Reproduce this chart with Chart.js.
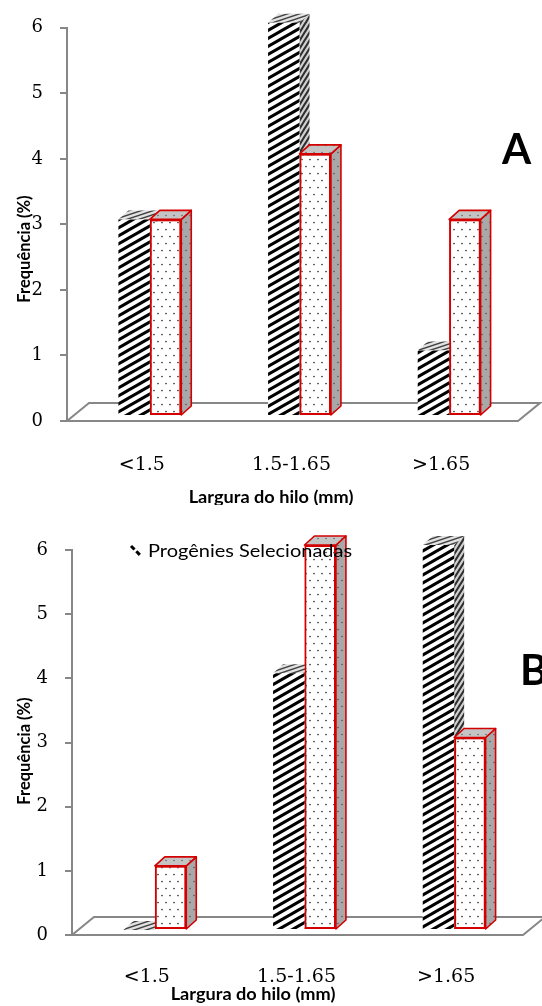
<!DOCTYPE html>
<html>
<head>
<meta charset="utf-8">
<script src="https://cdn.jsdelivr.net/npm/chart.js@4.4.0/dist/chart.umd.min.js"></script>
<style>
  html, body { margin: 0; padding: 0; background: #ffffff; }
  #wrap { position: relative; width: 542px; height: 1006px; overflow: hidden; }
  .panel { position: absolute; left: 0; width: 542px; }
  #pa { top: 0; height: 505px; }
  #pb { top: 505px; height: 501px; }
  canvas { display: block; }
</style>
</head>
<body>
<div id="wrap">
  <div class="panel" id="pa"><canvas id="chartA" width="542" height="505"></canvas></div>
  <div class="panel" id="pb"><canvas id="chartB" width="542" height="501"></canvas></div>
</div>
<script>
// Hilum width classes and frequency (%) per group
const categories = ['<1.5', '1.5-1.65', '>1.65'];
const selecionadasA = [3, 6, 1];
const outrasA = [3, 4, 3];
const selecionadasB = [0, 4, 6];
const outrasB = [1, 6, 3];
const yTicks = [0, 1, 2, 3, 4, 5, 6];
const seriesNames = ['Progênies Selecionadas', 'Outras progênies'];
const yTitle = 'Frequência (%)';
const xTitle = 'Largura do hilo (mm)';

const RED = '#d40000';
const AXIS_GREY = '#878787';

// ---------- fill patterns ----------
function tile(w, h) {
  const c = document.createElement('canvas');
  c.width = w; c.height = h;
  return c;
}
function hatchPattern(bg, fg, w, h, lw) {
  const c = tile(w, h), g = c.getContext('2d');
  g.fillStyle = bg; g.fillRect(0, 0, w, h);
  g.strokeStyle = fg; g.lineWidth = lw;
  for (let k = -1; k <= 3; k++) {
    g.beginPath();
    g.moveTo(w * (k + 1), -h);
    g.lineTo(w * (k - 2), 2 * h);
    g.stroke();
  }
  return g.createPattern(c, 'repeat');
}
function dotPattern(bg, fg, w, h, r) {
  const c = tile(w, h), g = c.getContext('2d');
  g.fillStyle = bg; g.fillRect(0, 0, w, h);
  g.fillStyle = fg;
  [[w * 0.25, h * 0.25], [w * 0.75, h * 0.75]].forEach(([x, y]) => {
    g.beginPath(); g.arc(x, y, r, 0, Math.PI * 2); g.fill();
  });
  return g.createPattern(c, 'repeat');
}

const hatchFront = hatchPattern('#ffffff', '#000000', 14, 8, 3.1);
const hatchSide = hatchPattern('#d0d0d0', '#2e2e2e', 5, 8, 2.0);
const hatchTop = hatchPattern('#e2e2e2', '#404040', 12, 4, 1.4);
const dotFront = dotPattern('#ffffff', '#333333', 8, 14, 0.85);
const dotSide = dotPattern('#a8a8a8', '#555555', 8, 14, 0.8);
const dotTop = dotPattern('#c4c4c4', '#666666', 8, 14, 0.8);

// side and top faces of one bar element
function drawFaces(ctx, el, o, styled) {
  const p = el.getProps(['x', 'y', 'base', 'width'], true);
  const dx = o.depthX, dy = o.depthY;
  const x0 = p.x - p.width / 2, x1 = p.x + p.width / 2;
  const top = Math.min(p.y, p.base), bot = Math.max(p.y, p.base);
  ctx.save();
  ctx.lineJoin = 'round';
  ctx.beginPath();
  ctx.moveTo(x1, top);
  ctx.lineTo(x1 + dx, top + dy);
  ctx.lineTo(x1 + dx, bot + dy);
  ctx.lineTo(x1, bot);
  ctx.closePath();
  ctx.fillStyle = styled ? dotSide : hatchSide;
  ctx.fill();
  if (styled) { ctx.strokeStyle = RED; ctx.lineWidth = 1.6; ctx.stroke(); }
  ctx.beginPath();
  ctx.moveTo(x0, top);
  ctx.lineTo(x1, top);
  ctx.lineTo(x1 + dx, top + dy);
  ctx.lineTo(x0 + dx, top + dy);
  ctx.closePath();
  ctx.fillStyle = styled ? dotTop : hatchTop;
  ctx.fill();
  if (styled) { ctx.strokeStyle = RED; ctx.lineWidth = 1.6; ctx.stroke(); }
  ctx.restore();
}

// ---------- 3D floor and bar faces ----------
const bar3d = {
  id: 'bar3d',
  beforeDatasetsDraw(chart, args, o) {
    const { ctx, chartArea: a } = chart;
    ctx.save();
    ctx.beginPath();
    ctx.moveTo(a.left, a.bottom);
    ctx.lineTo(a.right + o.floorExtra, a.bottom);
    ctx.lineTo(a.right + o.floorExtra + o.floorDX, a.bottom + o.floorDY);
    ctx.lineTo(a.left + o.floorDX, a.bottom + o.floorDY);
    ctx.closePath();
    ctx.fillStyle = '#ffffff';
    ctx.fill();
    ctx.strokeStyle = AXIS_GREY;
    ctx.lineWidth = 2;
    ctx.stroke();
    ctx.restore();
    // bars stand in the middle of the floor's depth
    ctx.save();
    ctx.translate(o.shiftX, o.shiftY);
  },
  beforeDatasetDraw(chart, args, o) {
    if (args.index === 0) {
      args.meta.data.forEach(el => drawFaces(chart.ctx, el, o, false));
    }
  },
  afterDatasetsDraw(chart, args, o) {
    const ctx = chart.ctx;
    // the outlined series sits in front of the hatched one
    const meta = chart.getDatasetMeta(1);
    meta.data.forEach(el => {
      drawFaces(ctx, el, o, true);
      el.draw(ctx);
    });
    ctx.restore();
  }
};

// ---------- titles, panel letter, legend ----------
function stretchedText(ctx, text, x, y, sx) {
  ctx.save();
  ctx.translate(x, y);
  ctx.scale(sx, 1);
  ctx.fillText(text, 0, 0);
  ctx.restore();
}
const annotate = {
  id: 'annotate',
  afterDraw(chart, args, o) {
    const ctx = chart.ctx;
    ctx.save();
    ctx.fillStyle = '#000000';
    // y-axis title
    ctx.save();
    ctx.translate(o.yTitleAt[0], o.yTitleAt[1]);
    ctx.rotate(-Math.PI / 2);
    ctx.font = 'bold 16.5px Lato';
    ctx.textAlign = 'center';
    ctx.textBaseline = 'middle';
    ctx.fillText(yTitle, 0, 0);
    ctx.restore();
    // x-axis title
    ctx.font = 'bold 16.5px Lato';
    ctx.textAlign = 'center';
    ctx.textBaseline = 'middle';
    stretchedText(ctx, xTitle, o.xTitleAt[0], o.xTitleAt[1], 1.1);
    // panel letter
    ctx.font = 'bold 42px Lato';
    ctx.textAlign = 'left';
    ctx.fillText(o.letter, o.letterAt[0], o.letterAt[1]);
    // legend (first series only)
    if (o.legendAt) {
      const [lx, ly] = o.legendAt;
      ctx.save();
      ctx.strokeStyle = '#000000';
      ctx.lineWidth = 3;
      ctx.setLineDash([5, 2.5]);
      ctx.beginPath();
      ctx.moveTo(lx, ly - 5);
      ctx.lineTo(lx + 10, ly + 5);
      ctx.stroke();
      ctx.restore();
      ctx.font = '18px Lato';
      ctx.textAlign = 'left';
      ctx.textBaseline = 'middle';
      stretchedText(ctx, chart.data.datasets[0].label, lx + 17, ly, 1.11);
    }
    ctx.restore();
  }
};

function makeChart(id, sel, out, cfg) {
  return new Chart(document.getElementById(id), {
    type: 'bar',
    data: {
      labels: categories,
      datasets: [
        { label: seriesNames[0], data: sel, backgroundColor: hatchFront, borderWidth: 0,
          clip: false, barPercentage: 1, categoryPercentage: 0.42 },
        { label: seriesNames[1], data: out, backgroundColor: dotFront, borderColor: RED,
          borderWidth: 2, borderSkipped: false, clip: false, barPercentage: 1, categoryPercentage: 0.42 }
      ]
    },
    options: {
      responsive: false,
      animation: false,
      events: [],
      layout: { padding: cfg.padding },
      plugins: {
        legend: { display: false },
        tooltip: { enabled: false },
        bar3d: { floorDX: 22, floorDY: -18, floorExtra: 2, shiftX: 8, shiftY: -5, depthX: 10, depthY: -9 },
        annotate: cfg.annotate
      },
      scales: {
        x: {
          grid: { display: false, drawTicks: false },
          border: { display: false },
          ticks: { font: { family: 'DejaVu Serif', size: 19 }, color: '#000000', padding: cfg.xPad, maxRotation: 0 },
          afterFit(s) { s.height = cfg.xAxisH; }
        },
        y: {
          min: 0, max: 6,
          afterBuildTicks(s) { s.ticks = yTicks.map(v => ({ value: v })); },
          ticks: { font: { family: 'DejaVu Serif', size: 18 }, color: '#000000', padding: 17 },
          grid: { drawOnChartArea: false, drawTicks: true, tickLength: 7, color: AXIS_GREY, lineWidth: 2 },
          border: { display: true, color: AXIS_GREY, width: 2 },
          afterFit(s) { s.width = cfg.yAxisW; }
        }
      }
    },
    plugins: [bar3d, annotate]
  });
}

makeChart('chartA', selecionadasA, outrasA, {
  padding: { top: 27, right: 26, left: 0, bottom: 24 },
  xAxisH: 60, yAxisW: 67, xPad: 33,
  annotate: { yTitleAt: [25, 249], xTitleAt: [271, 498], letter: 'A', letterAt: [502, 150] }
});

makeChart('chartB', selecionadasB, outrasB, {
  padding: { top: 45, right: 21, left: 0, bottom: 11 },
  xAxisH: 60, yAxisW: 72, xPad: 31,
  annotate: { yTitleAt: [25, 246], xTitleAt: [253, 490], letter: 'B', letterAt: [520, 166],
              legendAt: [131, 46] }
});
</script>
</body>
</html>
